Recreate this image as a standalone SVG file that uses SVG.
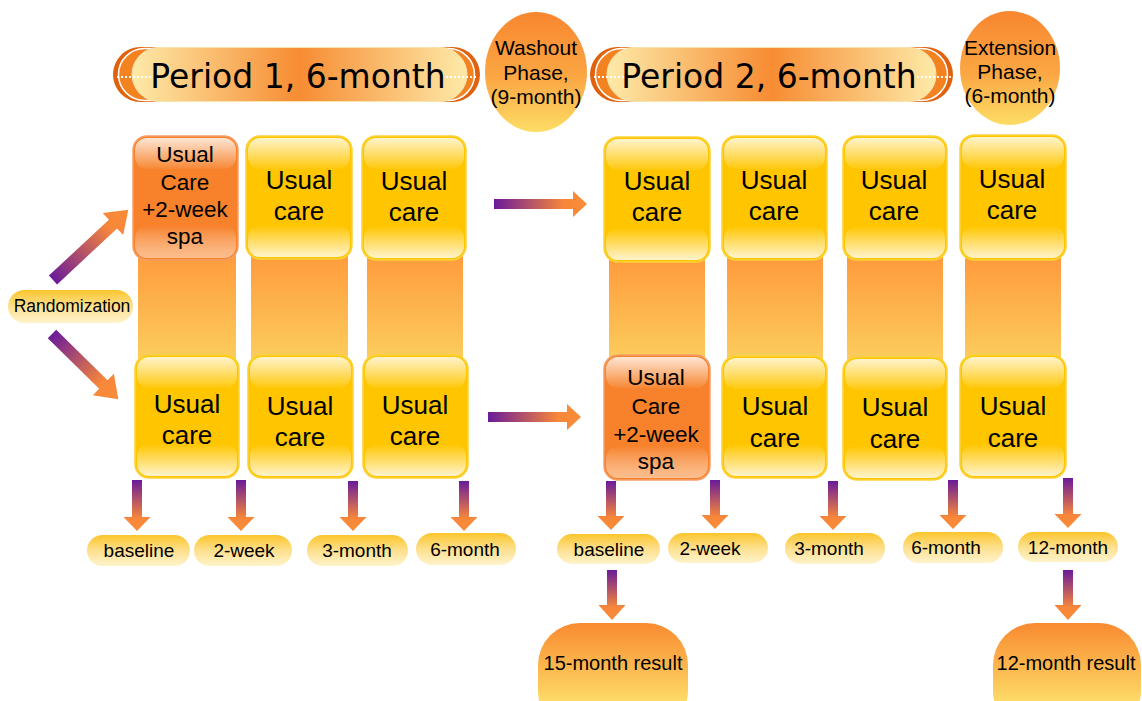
<svg xmlns="http://www.w3.org/2000/svg" width="1142" height="701" viewBox="0 0 1142 701">
<defs>
<linearGradient id="gBanner" x1="0" y1="0" x2="1" y2="0">
<stop offset="0" stop-color="#FDEAA8"/><stop offset="0.5" stop-color="#F78C33"/><stop offset="1" stop-color="#FDEAA8"/>
</linearGradient>
<linearGradient id="gCircle" x1="0" y1="0" x2="0" y2="1">
<stop offset="0" stop-color="#F8862F"/><stop offset="0.55" stop-color="#FBA743"/><stop offset="1" stop-color="#FDDD66"/>
</linearGradient>
<linearGradient id="gResult" x1="0" y1="0" x2="0" y2="0.75">
<stop offset="0" stop-color="#F98A30"/><stop offset="1" stop-color="#FDDF6A"/>
</linearGradient>
<linearGradient id="gBar" x1="0" y1="0" x2="0" y2="1">
<stop offset="0" stop-color="#FF993C"/><stop offset="1" stop-color="#FCCE5E"/>
</linearGradient>
<linearGradient id="gPill" x1="0" y1="0" x2="0" y2="1">
<stop offset="0" stop-color="#FBC52C"/><stop offset="0.5" stop-color="#FDE08E"/><stop offset="1" stop-color="#FFF3CC"/>
</linearGradient>
<linearGradient id="gTop" x1="0" y1="0" x2="0" y2="1">
<stop offset="0" stop-color="#FFFFFF" stop-opacity="0.8"/><stop offset="1" stop-color="#FFFFFF" stop-opacity="0.05"/>
</linearGradient>
<linearGradient id="gBot" x1="0" y1="0" x2="0" y2="1">
<stop offset="0" stop-color="#FFFFFF" stop-opacity="0"/><stop offset="1" stop-color="#FFFFFF" stop-opacity="0.8"/>
</linearGradient>
<linearGradient id="gBotO" x1="0" y1="0" x2="0" y2="1">
<stop offset="0" stop-color="#FFFFFF" stop-opacity="0"/><stop offset="1" stop-color="#FFD8B8" stop-opacity="0.7"/>
</linearGradient>
<linearGradient id="gArrowH" x1="0" y1="0" x2="1" y2="0">
<stop offset="0" stop-color="#6A1B9A"/><stop offset="0.75" stop-color="#F7873A"/><stop offset="1" stop-color="#F98C38"/>
</linearGradient>
<linearGradient id="gArrowV" x1="0" y1="0" x2="0" y2="1">
<stop offset="0" stop-color="#6A1B9A"/><stop offset="0.75" stop-color="#F7873A"/><stop offset="1" stop-color="#F98C38"/>
</linearGradient>
</defs>
<style>
text{font-family:"Liberation Sans",Arial,sans-serif;fill:#000;text-anchor:middle}
.ban{font-family:"DejaVu Sans",Verdana,sans-serif;font-size:33px}
.circ{font-size:21px}
.box{font-size:26px}
.obox{font-size:22.5px}
.lbl{font-size:19px}
.res{font-size:20px}
.ybox{fill:#FFC600;stroke:#FBD23A;stroke-width:1.5}
.orbox{fill:#F7822B;stroke:#F3A06A;stroke-width:1.5}
.gtop{fill:url(#gTop)}
.gbot{fill:url(#gBot)}
.gboto{fill:url(#gBotO)}
.bar{fill:url(#gBar)}
.pill{fill:url(#gPill)}
.ah{fill:url(#gArrowH)}
.av{fill:url(#gArrowV)}
.dots{stroke:#FFFFFF;stroke-width:2;stroke-dasharray:2 2;fill:none}
</style>

<!-- banners and phases -->
<g id="period1">
<rect x="113" y="47" width="367" height="55" rx="27.5" fill="#E0620E"/>
<rect x="118.5" y="48.5" width="356" height="52" rx="26" fill="#F38221" stroke="#FFFFFF" stroke-width="1.5"/>
<rect x="132" y="47.5" width="335" height="54" rx="27" fill="url(#gBanner)" stroke="#FBE3B0" stroke-width="1"/>
<line class="dots" x1="117" y1="77" x2="151" y2="77"/>
<line class="dots" x1="446" y1="77" x2="478" y2="77"/>
<text class="ban" x="298" y="88">Period 1, 6-month</text>
</g>
<g id="washout">
<ellipse cx="536" cy="72" rx="51" ry="60" fill="url(#gCircle)"/>
<text class="circ" x="536" y="55">Washout</text>
<text class="circ" x="536" y="80">Phase,</text>
<text class="circ" x="536" y="104">(9-month)</text>
</g>
<g id="period2">
<rect x="590" y="47" width="363" height="55" rx="27.5" fill="#E0620E"/>
<rect x="595.5" y="48.5" width="352" height="52" rx="26" fill="#F38221" stroke="#FFFFFF" stroke-width="1.5"/>
<rect x="607" y="47.5" width="329" height="54" rx="27" fill="url(#gBanner)" stroke="#FBE3B0" stroke-width="1"/>
<line class="dots" x1="594" y1="77" x2="624" y2="77"/>
<line class="dots" x1="917" y1="77" x2="951" y2="77"/>
<text class="ban" x="769" y="88">Period 2, 6-month</text>
</g>
<g id="extension">
<ellipse cx="1010" cy="68" rx="50" ry="57" fill="url(#gCircle)"/>
<text class="circ" x="1010" y="55">Extension</text>
<text class="circ" x="1010" y="79">Phase,</text>
<text class="circ" x="1010" y="103">(6-month)</text>
</g>

<!-- connecting bars -->
<g id="bars">
<rect class="bar" x="138" y="250" width="98" height="112"/>
<rect class="bar" x="251" y="250" width="97" height="112"/>
<rect class="bar" x="367" y="250" width="96" height="112"/>
<rect class="bar" x="609" y="255" width="96" height="108"/>
<rect class="bar" x="727" y="255" width="96" height="108"/>
<rect class="bar" x="847" y="255" width="96" height="108"/>
<rect class="bar" x="965" y="255" width="96" height="108"/>
</g>

<!-- period 1 top row -->
<g id="p1-top-1">
<rect class="orbox" x="133" y="136" width="105" height="124" rx="14"/>
<rect class="gtop" x="135" y="138" width="101" height="31" rx="12"/>
<rect class="gboto" x="135" y="226" width="101" height="32" rx="12"/>
<text class="obox" x="185" y="162">Usual</text>
<text class="obox" x="185" y="190">Care</text>
<text class="obox" x="185" y="217">+2-week</text>
<text class="obox" x="185" y="244">spa</text>
</g>
<g id="p1-top-2">
<rect class="ybox" x="246" y="136" width="106" height="123" rx="14"/>
<rect class="gtop" x="248" y="138" width="102" height="31" rx="12"/>
<rect class="gbot" x="248" y="225" width="102" height="32" rx="12"/>
<text class="box" x="299" y="189">Usual</text>
<text class="box" x="299" y="220">care</text>
</g>
<g id="p1-top-3">
<rect class="ybox" x="362" y="136" width="104" height="124" rx="14"/>
<rect class="gtop" x="364" y="138" width="100" height="31" rx="12"/>
<rect class="gbot" x="364" y="226" width="100" height="32" rx="12"/>
<text class="box" x="414" y="190">Usual</text>
<text class="box" x="414" y="221">care</text>
</g>

<!-- period 1 bottom row -->
<g id="p1-bot-1">
<rect class="ybox" x="135" y="355" width="104" height="123" rx="14"/>
<rect class="gtop" x="137" y="357" width="100" height="31" rx="12"/>
<rect class="gbot" x="137" y="444" width="100" height="32" rx="12"/>
<text class="box" x="187" y="413">Usual</text>
<text class="box" x="187" y="444">care</text>
</g>
<g id="p1-bot-2">
<rect class="ybox" x="248" y="355" width="105" height="123" rx="14"/>
<rect class="gtop" x="250" y="357" width="101" height="31" rx="12"/>
<rect class="gbot" x="250" y="444" width="101" height="32" rx="12"/>
<text class="box" x="300" y="415">Usual</text>
<text class="box" x="300" y="446">care</text>
</g>
<g id="p1-bot-3">
<rect class="ybox" x="363" y="355" width="105" height="123" rx="14"/>
<rect class="gtop" x="365" y="357" width="101" height="31" rx="12"/>
<rect class="gbot" x="365" y="444" width="101" height="32" rx="12"/>
<text class="box" x="415" y="414">Usual</text>
<text class="box" x="415" y="445">care</text>
</g>

<!-- period 2 top row -->
<g id="p2-top-1">
<rect class="ybox" x="604" y="137" width="106" height="125" rx="14"/>
<rect class="gtop" x="606" y="139" width="102" height="31" rx="12"/>
<rect class="gbot" x="606" y="228" width="102" height="32" rx="12"/>
<text class="box" x="657" y="190">Usual</text>
<text class="box" x="657" y="221">care</text>
</g>
<g id="p2-top-2">
<rect class="ybox" x="722" y="136" width="105" height="124" rx="14"/>
<rect class="gtop" x="724" y="138" width="101" height="31" rx="12"/>
<rect class="gbot" x="724" y="226" width="101" height="32" rx="12"/>
<text class="box" x="774" y="189">Usual</text>
<text class="box" x="774" y="220">care</text>
</g>
<g id="p2-top-3">
<rect class="ybox" x="843" y="136" width="104" height="124" rx="14"/>
<rect class="gtop" x="845" y="138" width="100" height="31" rx="12"/>
<rect class="gbot" x="845" y="226" width="100" height="32" rx="12"/>
<text class="box" x="894" y="189">Usual</text>
<text class="box" x="894" y="220">care</text>
</g>
<g id="p2-top-4">
<rect class="ybox" x="960" y="135" width="106" height="125" rx="14"/>
<rect class="gtop" x="962" y="137" width="102" height="31" rx="12"/>
<rect class="gbot" x="962" y="226" width="102" height="32" rx="12"/>
<text class="box" x="1012" y="188">Usual</text>
<text class="box" x="1012" y="219">care</text>
</g>

<!-- period 2 bottom row -->
<g id="p2-bot-1">
<rect class="orbox" x="604" y="355" width="106" height="125" rx="14"/>
<rect class="gtop" x="606" y="357" width="102" height="31" rx="12"/>
<rect class="gboto" x="606" y="446" width="102" height="32" rx="12"/>
<text class="obox" x="656" y="385">Usual</text>
<text class="obox" x="656" y="414">Care</text>
<text class="obox" x="656" y="442">+2-week</text>
<text class="obox" x="656" y="469">spa</text>
</g>
<g id="p2-bot-2">
<rect class="ybox" x="722" y="356" width="105" height="122" rx="14"/>
<rect class="gtop" x="724" y="358" width="101" height="31" rx="12"/>
<rect class="gbot" x="724" y="444" width="101" height="32" rx="12"/>
<text class="box" x="775" y="415">Usual</text>
<text class="box" x="775" y="447">care</text>
</g>
<g id="p2-bot-3">
<rect class="ybox" x="843" y="357" width="104" height="123" rx="14"/>
<rect class="gtop" x="845" y="359" width="100" height="31" rx="12"/>
<rect class="gbot" x="845" y="446" width="100" height="32" rx="12"/>
<text class="box" x="895" y="416">Usual</text>
<text class="box" x="895" y="448">care</text>
</g>
<g id="p2-bot-4">
<rect class="ybox" x="960" y="355" width="106" height="123" rx="14"/>
<rect class="gtop" x="962" y="357" width="102" height="31" rx="12"/>
<rect class="gbot" x="962" y="444" width="102" height="32" rx="12"/>
<text class="box" x="1013" y="415">Usual</text>
<text class="box" x="1013" y="447">care</text>
</g>

<!-- randomization -->
<g id="randomization">
<rect class="pill" x="8" y="290" width="125" height="33" rx="16.5"/>
<text x="72" y="312" style="font-size:17.5px">Randomization</text>
</g>

<!-- time-point labels -->
<g id="lbl-p1-baseline"><rect class="pill" x="87" y="535" width="103" height="31" rx="15.5"/><text class="lbl" x="139" y="557">baseline</text></g>
<g id="lbl-p1-2week"><rect class="pill" x="194" y="535" width="98" height="31" rx="15.5"/><text class="lbl" x="244" y="557">2-week</text></g>
<g id="lbl-p1-3month"><rect class="pill" x="307" y="535" width="101" height="31" rx="15.5"/><text class="lbl" x="357" y="557">3-month</text></g>
<g id="lbl-p1-6month"><rect class="pill" x="416" y="533" width="100" height="32" rx="16"/><text class="lbl" x="465" y="556">6-month</text></g>
<g id="lbl-p2-baseline"><rect class="pill" x="557" y="534" width="103" height="30" rx="15"/><text class="lbl" x="609" y="556">baseline</text></g>
<g id="lbl-p2-2week"><rect class="pill" x="668" y="533" width="100" height="30" rx="15"/><text class="lbl" x="710" y="555">2-week</text></g>
<g id="lbl-p2-3month"><rect class="pill" x="785" y="533" width="100" height="31" rx="15.5"/><text class="lbl" x="829" y="555">3-month</text></g>
<g id="lbl-p2-6month"><rect class="pill" x="903" y="532" width="100" height="31" rx="15.5"/><text class="lbl" x="946" y="554">6-month</text></g>
<g id="lbl-p2-12month"><rect class="pill" x="1018" y="532" width="100" height="30" rx="15"/><text class="lbl" x="1068" y="554">12-month</text></g>

<!-- results -->
<g id="result-15">
<rect x="538" y="623" width="150" height="110" rx="42" fill="url(#gResult)"/>
<text class="res" x="613" y="670">15-month result</text>
</g>
<g id="result-12">
<rect x="993" y="623" width="148" height="110" rx="42" fill="url(#gResult)"/>
<text class="res" x="1066" y="670">12-month result</text>
</g>

<!-- connectors -->
<g id="connectors">
<polygon class="ah" transform="translate(53,280) rotate(-43)" points="0,-6 82,-6 82,-15 103,0 82,15 82,6 0,6"/>
<polygon class="ah" transform="translate(52,334) rotate(44.5)" points="0,-6 72,-6 72,-15 93,0 72,15 72,6 0,6"/>
<polygon class="ah" transform="translate(494,204)" points="0,-5 79,-5 79,-13 93,0 79,13 79,5 0,5"/>
<polygon class="ah" transform="translate(488,417)" points="0,-5 79,-5 79,-13 93,0 79,13 79,5 0,5"/>
<polygon class="av" transform="translate(137,480)" points="-5,0 5,0 5,37 13.5,37 0,51 -13.5,37 -5,37"/>
<polygon class="av" transform="translate(241,480)" points="-5,0 5,0 5,37 13.5,37 0,51 -13.5,37 -5,37"/>
<polygon class="av" transform="translate(353,481)" points="-5,0 5,0 5,36 13.5,36 0,50 -13.5,36 -5,36"/>
<polygon class="av" transform="translate(464,481)" points="-5,0 5,0 5,36 13.5,36 0,50 -13.5,36 -5,36"/>
<polygon class="av" transform="translate(611,481)" points="-5,0 5,0 5,35 13.5,35 0,49 -13.5,35 -5,35"/>
<polygon class="av" transform="translate(715,480)" points="-5,0 5,0 5,35 13.5,35 0,49 -13.5,35 -5,35"/>
<polygon class="av" transform="translate(833,481)" points="-5,0 5,0 5,35 13.5,35 0,49 -13.5,35 -5,35"/>
<polygon class="av" transform="translate(953,480)" points="-5,0 5,0 5,35 13.5,35 0,49 -13.5,35 -5,35"/>
<polygon class="av" transform="translate(1068,478)" points="-5,0 5,0 5,36 13.5,36 0,50 -13.5,36 -5,36"/>
<polygon class="av" transform="translate(612,570)" points="-5,0 5,0 5,35 13.5,35 0,50 -13.5,35 -5,35"/>
<polygon class="av" transform="translate(1068,570)" points="-5,0 5,0 5,35 13.5,35 0,50 -13.5,35 -5,35"/>
</g>
</svg>
